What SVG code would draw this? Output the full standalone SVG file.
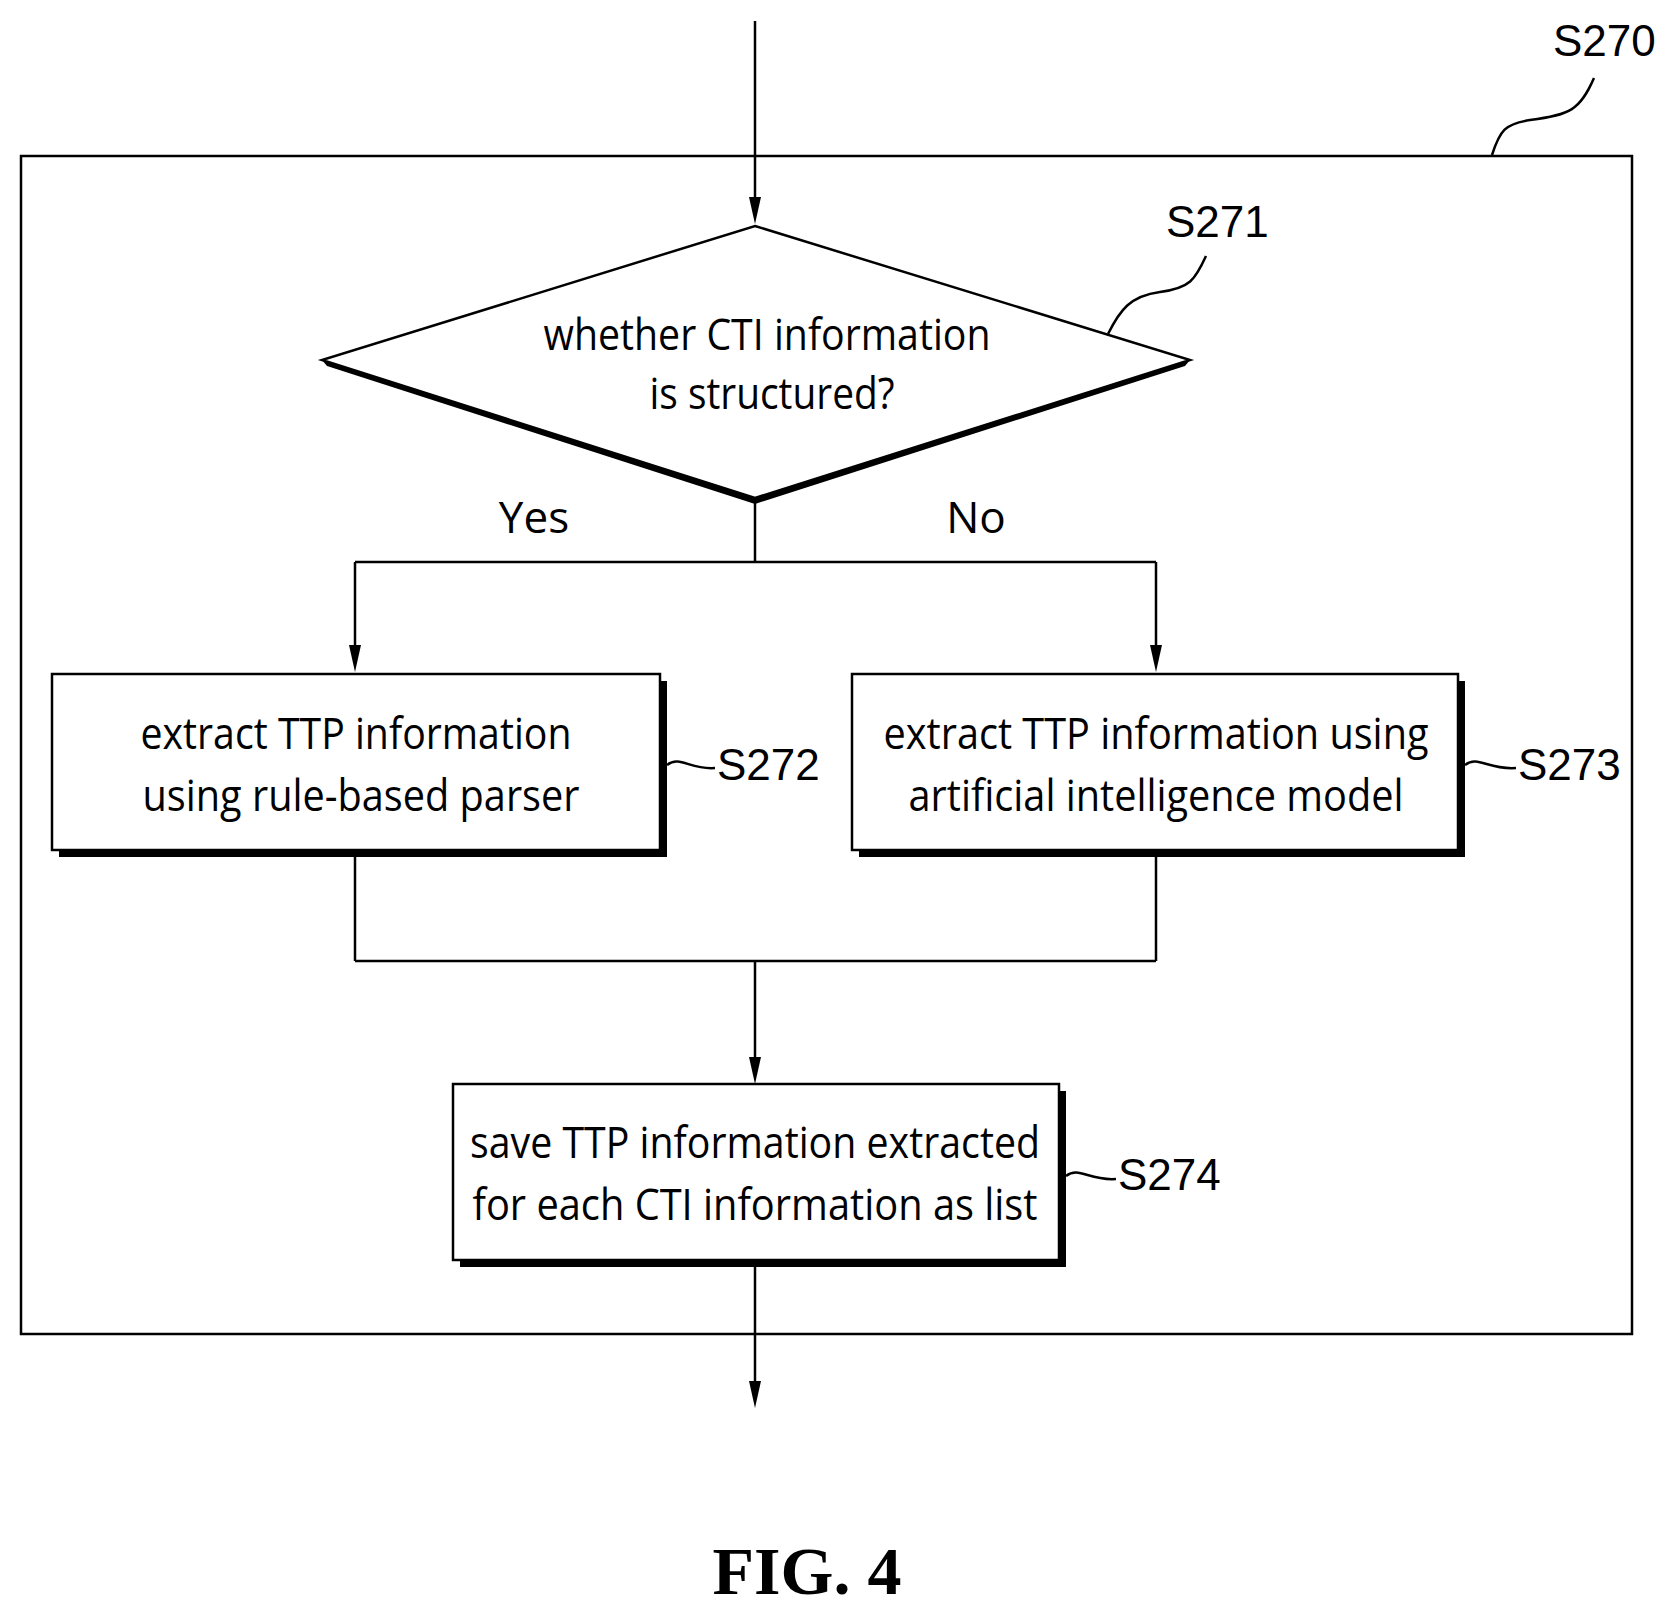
<svg xmlns="http://www.w3.org/2000/svg" width="1670" height="1617" viewBox="0 0 1670 1617">
<style>
.l{fill:none;stroke:#000;stroke-width:2.5}
.b{fill:#fff;stroke:#000;stroke-width:2.5}
.t{font-family:"Open Sans","Liberation Sans",sans-serif;font-size:44px;text-anchor:middle;fill:#000}
.s{font-family:"Liberation Sans",sans-serif;font-size:44px;fill:#000}
</style>
<rect width="1670" height="1617" fill="#fff"/>
<g id="frame"><rect class="l" x="21" y="156" width="1611" height="1178"/>
<text class="s" x="1553" y="56">S270</text>
<path class="l" d="M1594,78C1580,110 1570,115 1530,120C1505,124 1500,130 1492,155"/></g>
<g id="connectors">
<path class="l" d="M755,21V200"/>
<path class="l" d="M755,498V562M355,562H1156M355,562V648M1156,562V648"/>
<path d="M355,645L349,645L355,672L361,645Z"/><path d="M1156,645L1150,645L1156,672L1162,645Z"/>
<path d="M755,197L749,197L755,224L761,197Z"/>
<path class="l" d="M355,850V961M1156,850V961M355,961H1156M755,961V1060"/>
<path d="M755,1057L749,1057L755,1084L761,1057Z"/>
<path class="l" d="M755,1260V1384"/>
<path d="M755,1381L749,1381L755,1408L761,1381Z"/>
<text class="t" x="534" y="533">Yes</text>
<text class="t" x="976" y="533">No</text>
</g>
<g id="S271">
<path d="M322,360L755,498L1190,360L1185,366L755,504L327,366Z" fill="#000"/>
<path class="b" d="M755,226L1190,360L755,498L322,360Z"/>
<text class="t" x="767" y="350" textLength="447" lengthAdjust="spacingAndGlyphs">whether CTI information</text>
<text class="t" x="772" y="409" textLength="245" lengthAdjust="spacingAndGlyphs">is structured?</text>
<text class="s" x="1166" y="237">S271</text>
<path class="l" d="M1206,256C1195,280 1190,288 1160,292C1130,296 1120,310 1108,334"/>
</g>
<g id="S272">
<rect x="59" y="681" width="608" height="176" fill="#000"/>
<rect class="b" x="52" y="674" width="608" height="176"/>
<text class="t" x="356" y="749" textLength="431" lengthAdjust="spacingAndGlyphs">extract TTP information</text>
<text class="t" x="361" y="811" textLength="437" lengthAdjust="spacingAndGlyphs">using rule-based parser</text>
<text class="s" x="717" y="780">S272</text>
<path class="l" d="M667,765C680,755 690,770 715,768"/>
</g>
<g id="S273">
<rect x="859" y="681" width="606" height="176" fill="#000"/>
<rect class="b" x="852" y="674" width="606" height="176"/>
<text class="t" x="1156" y="749" textLength="545" lengthAdjust="spacingAndGlyphs">extract TTP information using</text>
<text class="t" x="1156" y="811" textLength="495" lengthAdjust="spacingAndGlyphs">artificial intelligence model</text>
<text class="s" x="1518" y="780">S273</text>
<path class="l" d="M1465,765C1478,755 1488,770 1516,768"/>
</g>
<g id="S274">
<rect x="460" y="1091" width="606" height="176" fill="#000"/>
<rect class="b" x="453" y="1084" width="606" height="176"/>
<text class="t" x="755" y="1158" textLength="570" lengthAdjust="spacingAndGlyphs">save TTP information extracted</text>
<text class="t" x="755" y="1220" textLength="565" lengthAdjust="spacingAndGlyphs">for each CTI information as list</text>
<text class="s" x="1118" y="1190">S274</text>
<path class="l" d="M1066,1176C1079,1166 1089,1181 1116,1179"/>
</g>
<text x="807" y="1594" font-family="Liberation Serif,serif" font-weight="bold" font-size="68" text-anchor="middle">FIG. 4</text>
</svg>
